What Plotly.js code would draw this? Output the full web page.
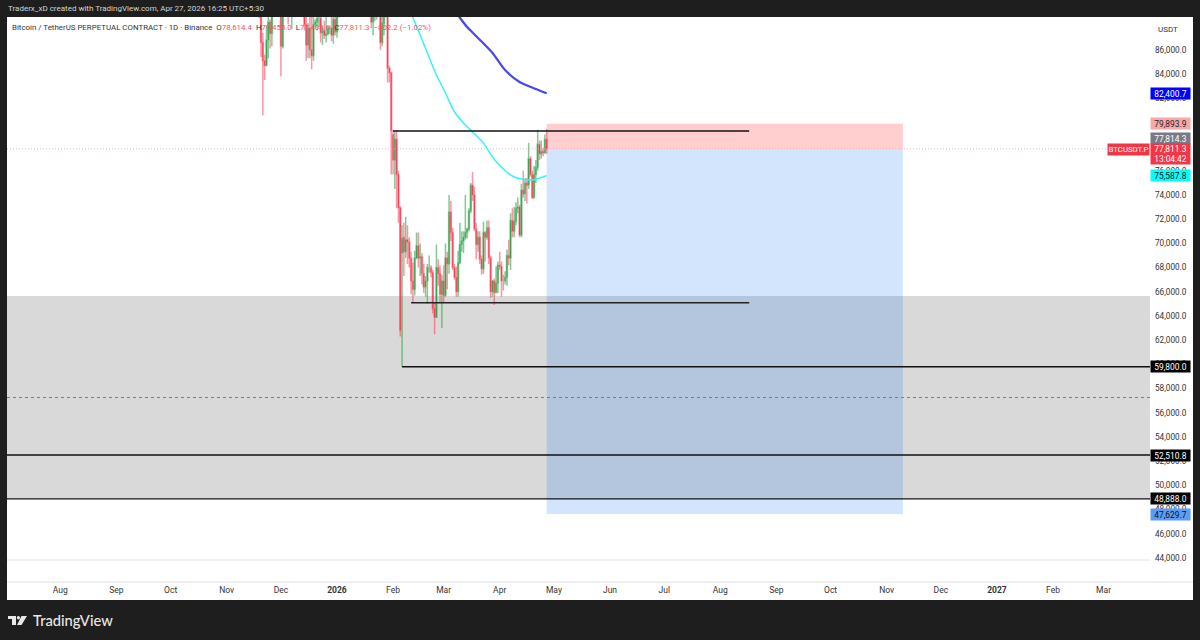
<!DOCTYPE html>
<html><head><meta charset="utf-8">
<script src="https://cdn.plot.ly/plotly-3.0.1.min.js"></script>
<style>html,body{margin:0;padding:0;background:#1e1e1e}#c{width:1200px;height:640px}</style></head>
<body><div id="c"></div>
<script>
const dates=[
'2025-11-17','2025-11-18','2025-11-19','2025-11-20','2025-11-21','2025-11-22','2025-11-23','2025-11-24','2025-11-25','2025-11-26','2025-11-27','2025-11-28','2025-11-29','2025-11-30',
'2025-12-01','2025-12-02','2025-12-03','2025-12-04','2025-12-05','2025-12-06','2025-12-07','2025-12-08','2025-12-09','2025-12-10','2025-12-11','2025-12-12','2025-12-13','2025-12-14','2025-12-15','2025-12-16','2025-12-17','2025-12-18','2025-12-19','2025-12-20','2025-12-21','2025-12-22','2025-12-23','2025-12-24','2025-12-25','2025-12-26','2025-12-27','2025-12-28','2025-12-29','2025-12-30','2025-12-31',
'2026-01-01','2026-01-02','2026-01-03','2026-01-04','2026-01-05','2026-01-06','2026-01-07','2026-01-08','2026-01-09','2026-01-10','2026-01-11','2026-01-12','2026-01-13','2026-01-14','2026-01-15','2026-01-16','2026-01-17','2026-01-18','2026-01-19','2026-01-20','2026-01-21','2026-01-22','2026-01-23','2026-01-24','2026-01-25','2026-01-26','2026-01-27','2026-01-28','2026-01-29','2026-01-30','2026-01-31',
'2026-02-01','2026-02-02','2026-02-03','2026-02-04','2026-02-05','2026-02-06','2026-02-07','2026-02-08','2026-02-09','2026-02-10','2026-02-11','2026-02-12','2026-02-13','2026-02-14','2026-02-15','2026-02-16','2026-02-17','2026-02-18','2026-02-19','2026-02-20','2026-02-21','2026-02-22','2026-02-23','2026-02-24','2026-02-25','2026-02-26','2026-02-27','2026-02-28',
'2026-03-01','2026-03-02','2026-03-03','2026-03-04','2026-03-05','2026-03-06','2026-03-07','2026-03-08','2026-03-09','2026-03-10','2026-03-11','2026-03-12','2026-03-13','2026-03-14','2026-03-15','2026-03-16','2026-03-17','2026-03-18','2026-03-19','2026-03-20','2026-03-21','2026-03-22','2026-03-23','2026-03-24','2026-03-25','2026-03-26','2026-03-27','2026-03-28','2026-03-29','2026-03-30','2026-03-31',
'2026-04-01','2026-04-02','2026-04-03','2026-04-04','2026-04-05','2026-04-06','2026-04-07','2026-04-08','2026-04-09','2026-04-10','2026-04-11','2026-04-12','2026-04-13','2026-04-14','2026-04-15','2026-04-16','2026-04-17','2026-04-18','2026-04-19','2026-04-20','2026-04-21','2026-04-22','2026-04-23','2026-04-24','2026-04-25','2026-04-26','2026-04-27'];
const opens=[
94200,92200,92900,91500,86600,85100,84700,86800,88300,87350,90500,91300,90900,90800,
90400,86300,91300,93400,92100,89300,89200,90400,90600,92700,92000,92500,90200,90200,88100,86400,87800,86000,85500,88100,88300,88600,88600,87400,87600,87200,87300,87800,87800,87200,88500,
87500,88750,89950,90600,91500,93900,93700,91200,90900,90500,90400,90800,91200,95300,96900,95500,95500,95100,94900,92500,88300,89500,89500,89500,89200,86600,88200,89100,89200,84500,84100,
79000,76900,78600,75700,72950,69200,70500,69300,70300,70100,68800,66900,66200,68800,69800,68800,68900,67500,66400,66900,68000,68000,67600,64600,63900,68000,67500,65800,
66900,65700,68800,68300,72600,70900,68000,67200,66000,68400,69900,70200,70500,70900,71200,72700,74800,74000,71200,69900,70500,68700,67900,70900,70500,71300,68800,66000,66900,65950,66700,
68200,68100,66900,66900,67200,69000,68800,71900,71000,71800,72900,73000,70700,74400,74100,75000,74800,77000,75700,73800,75700,76300,78200,77400,77600,77500,78614.4];
const highs=[
96000,93900,92900,93100,87400,85600,88000,89200,88500,90600,91950,93000,91200,92000,
90400,92300,94100,94000,92700,90300,91800,92300,94600,94500,93500,92700,90600,90500,90000,88200,90300,89400,89300,88500,89000,90500,88900,87900,88400,89500,87900,88000,90400,89300,89200,
88800,90900,90700,91800,94800,94800,93800,91500,91900,90900,91100,92400,96000,97900,97200,95800,95600,95500,94900,92800,90500,90300,91100,89800,89300,88900,89400,90600,89200,84700,84200,
79400,79200,79300,76000,73100,71500,71700,72200,71500,70500,69300,68400,69400,70900,70900,70000,69200,68300,67300,68300,69000,68200,67800,65100,69900,68700,68200,67400,
68200,70000,69300,74000,73500,71300,68300,68100,69400,71700,71000,71000,74000,71300,72900,75000,75900,74700,71700,71000,71000,69000,71800,71000,71900,71900,69000,67000,67100,68100,68500,
69300,68500,67400,67700,69500,70300,72500,72900,73000,73400,73800,73200,74900,76000,75400,75400,78300,77200,76000,76400,76900,79400,78500,78500,77900,79000,79455];
const lows=[
91200,89200,88600,85400,80600,83500,84700,85300,86100,86300,90100,90200,90200,90300,
83800,86100,91000,90900,88100,88900,87700,89600,89500,91600,89300,89500,89700,87600,85100,85300,85300,84400,85100,87900,87600,87900,86600,86400,86900,86600,87200,87300,86700,86500,87200,
87000,88800,89300,90500,91400,91300,90900,89300,89700,90300,90200,90000,90000,94500,95000,94200,94900,94500,91900,87800,87200,88400,88500,89100,86000,86300,87200,88700,83300,83300,75700,
75700,74500,72900,71700,62300,59800,67300,68800,68300,68000,65800,65100,65700,68700,68000,67300,66600,65900,65600,65000,67600,67200,64200,62500,63900,66500,65100,63000,
65100,65600,66200,67500,70200,67800,67000,65600,65600,68300,69300,69200,70300,70400,71000,72500,73500,71000,68700,69300,68300,67400,67500,68500,70300,68300,65500,65600,64900,65900,65900,
67800,65600,66100,66600,66500,68200,67800,70500,70500,71500,72500,70500,70500,73800,73500,73300,74500,75500,73700,73700,75000,76000,76900,77000,77200,77400,77408.6];
const closes=[
92200,92900,91500,86600,85100,84700,86800,88300,87350,90500,91300,90900,90800,90400,
86300,91300,93400,92100,89300,89200,90400,90600,92700,92000,92500,90200,90200,88100,86400,87800,86000,85500,88100,88300,88600,88600,87400,87600,87200,87300,87800,87800,87200,88500,87500,
88700,89950,90600,91500,93900,93700,91200,90900,90500,90400,90800,91200,95300,96900,95500,95500,95100,94900,92500,88300,89500,89500,89500,89200,86600,88200,89100,89200,84500,84100,79300,
76900,78600,75700,72950,62800,70400,69300,70300,70100,68800,66900,66200,68800,69800,68800,68900,67500,66400,66900,68000,68000,67600,64600,63900,68000,67500,65800,66900,
65700,68800,68300,72600,70900,68000,67200,66000,68400,69900,70200,70500,70900,71200,72700,74800,74000,71200,69900,70500,68700,67900,70900,70500,71300,68800,66000,66900,65950,66700,68200,
68100,66900,66900,67200,69000,68800,71900,71000,71800,72900,73000,70700,74400,74100,75000,74800,77000,75700,73800,75700,76300,78200,77400,77600,77500,78600,77811.3];

const cyanDates=['2026-02-10','2026-02-12','2026-02-16','2026-02-20','2026-02-25','2026-03-02','2026-03-07','2026-03-13','2026-03-17','2026-03-23','2026-03-28','2026-04-03','2026-04-08','2026-04-13','2026-04-19','2026-04-23','2026-04-27'];
const cyanValues=[89300,88650,87220,85740,83920,82430,80860,79790,79210,78300,77140,76150,75570,75320,75240,75400,75587.8];
const blueDates=['2026-03-08','2026-03-10','2026-03-14','2026-03-20','2026-03-28','2026-04-04','2026-04-12','2026-04-21','2026-04-27'];
const blueValues=[89050,88650,87880,86980,85740,84330,83340,82760,82400.7];

const monthTicks=['2025-08-01','2025-09-01','2025-10-01','2025-11-01','2025-12-01','2026-01-01','2026-02-01','2026-03-01','2026-04-01','2026-05-01','2026-06-01','2026-07-01','2026-08-01','2026-09-01','2026-10-01','2026-11-01','2026-12-01','2027-01-01','2027-02-01','2027-03-01'];
const monthLabels=['Aug','Sep','Oct','Nov','Dec','<b>2026</b>','Feb','Mar','Apr','May','Jun','Jul','Aug','Sep','Oct','Nov','Dec','<b>2027</b>','Feb','Mar'];
const priceTicks=[44000,46000,48000,50000,52000,54000,56000,58000,60000,62000,64000,66000,68000,70000,72000,74000,76000,78000,80000,82000,84000,86000];

const xStart='2025-07-02 12:00', xEnd='2027-03-26 16:00';
const yMin=42017, yMax=88711;
const lastPrice=77811.3, stopPrice=79893.9, targetPrice=47629.7, zoneTop=65650, zoneBottom=48888;
const boxStart='2026-04-27', boxEnd='2026-11-10';

const L=7,R=1150,T=17,B=582;
const px=x=>(x-L)/(R-L), py=y=>(B-y)/(B-T);
const font='Roboto, sans-serif';

function hline(xs,y,color,width,dash){return {type:'scatter',mode:'lines',x:xs,y:xs.map(()=>y),line:{color,width,dash:dash||'solid'},hoverinfo:'skip',showlegend:false};}
const traces=[
 {type:'candlestick',x:dates,open:opens,high:highs,low:lows,close:closes,
  increasing:{line:{color:'rgba(50,165,75,0.6)',width:1.5},fillcolor:'#229a45'},
  decreasing:{line:{color:'rgba(250,60,85,0.55)',width:1.5},fillcolor:'#ff1f3f'},
  whiskerwidth:0,hoverinfo:'skip',showlegend:false},
 {type:'scatter',mode:'lines',x:cyanDates,y:cyanValues,line:{color:'#33f5f5',width:1.5,shape:'spline',smoothing:0.8},hoverinfo:'skip',showlegend:false},
 {type:'scatter',mode:'lines',x:blueDates,y:blueValues,line:{color:'#4747ee',width:2.2,shape:'spline',smoothing:0.8},hoverinfo:'skip',showlegend:false},
 hline(['2026-02-01','2026-08-17'],79290,'#111',1.4),
 hline(['2026-02-11','2026-08-17'],65100,'#222',1.4),
 hline(['2026-02-06',xEnd],59800,'#111',1.4),
 hline([xStart,xEnd],52510.8,'#111',1.4),
 hline([xStart,xEnd],48888,'#111',1.4),
 hline([xStart,xEnd],57266,'#8e5fe0',1,'3px,3px'),
 hline([xStart,'2027-03-03'],lastPrice,'#eeb0b8',1,'1px,2px')
];

const rect=(x0,x1,y0,y1,fill)=>({type:'rect',xref:'x',yref:'y',x0,x1,y0,y1,fillcolor:fill,line:{width:0},layer:'below'});
const poly=(pts,fill)=>({type:'path',xref:'paper',yref:'paper',path:'M'+pts.map(p=>px(p[0])+','+py(p[1])).join('L')+'Z',fillcolor:fill,line:{width:0},layer:'above'});
const shapes=[
 {type:'rect',xref:'paper',yref:'paper',x0:px(7),x1:px(1193),y0:py(600),y1:py(17),fillcolor:'#fff',line:{width:0},layer:'below'},
 rect(xStart,xEnd,zoneBottom,zoneTop,'#d9d9d9'),
 rect(boxStart,boxEnd,lastPrice,stopPrice,'rgba(255,82,82,0.28)'),
 rect(boxStart,boxEnd,targetPrice,lastPrice,'rgba(33,127,243,0.2)'),
 {type:'line',xref:'paper',yref:'paper',x0:px(7),x1:px(1150),y0:py(560),y1:py(560),line:{color:'#e2e2ea',width:1},layer:'below'},
 {type:'line',xref:'paper',yref:'paper',x0:px(7),x1:px(1193),y0:py(582),y1:py(582),line:{color:'#e2e2ea',width:1},layer:'below'},
 poly([[8,616],[16,616],[16,625],[12,625],[12,619],[8,619]],'#e8e8e8'),
 {type:'circle',xref:'paper',yref:'paper',x0:px(16.8),x1:px(20),y0:py(619.4),y1:py(616),fillcolor:'#e8e8e8',line:{width:0},layer:'above'},
 poly([[21.5,616],[27,616],[21.5,625],[17,625]],'#e8e8e8')
];

const priceBox=(y,text,bg,color,yPix)=>({xref:'paper',yref:yPix!==undefined?'paper':'y',x:px(1170.5),y:yPix!==undefined?py(yPix):y,text,showarrow:false,
  font:{family:font,size:8.4,color},bgcolor:bg,width:39,height:11,borderpad:0,xanchor:'center',yanchor:'middle'});
const label=(x,y,text,size,color,anchor,f,w)=>({xref:'paper',yref:'paper',x:px(x),y:py(y),text,showarrow:false,font:{family:f||font,size,color,weight:w||400},xanchor:anchor||'left',yanchor:'middle',borderpad:0});
const annotations=[
 label(7,9,'Traderx_xD created with TradingView.com, Apr 27, 2026 16:25 UTC+5:30',8,'#d4d4d4'),
 label(11,27,'Bitcoin / TetherUS PERPETUAL CONTRACT · 1D · Binance&nbsp;&nbsp;O<span style="color:#f7525f">78,614.4</span>&nbsp;&nbsp;H<span style="color:#f7525f">79,455.0</span>&nbsp;&nbsp;L<span style="color:#f7525f">77,408.6</span>&nbsp;&nbsp;C<span style="color:#f7525f">77,811.3</span>&nbsp;&nbsp;<span style="color:#f7525f">−802.2 (−1.02%)</span>',7.9,'#333'),
 label(1168,29,'USDT',8,'#333','center'),
 priceBox(82400.7,'82,400.7','#0000ff','#fff'),
 priceBox(stopPrice,'79,893.9','#f9a8a8','#222'),
 priceBox(0,'77,814.3','#787b86','#fff',138.5),
 {xref:'paper',yref:'paper',x:px(1170.5),y:py(154),text:'77,811.3<br>13:04:42',showarrow:false,font:{family:font,size:8.4,color:'#fff'},bgcolor:'#f23645',width:39,height:20,borderpad:0,xanchor:'center',yanchor:'middle'},
 priceBox(75587.8,'75,587.8','#00ffff','#111'),
 priceBox(59800,'59,800.0','#000','#fff'),
 priceBox(52510.8,'52,510.8','#000','#fff'),
 priceBox(48888,'48,888.0','#000','#fff'),
 priceBox(47629.7,'47,629.7','#5b9cf6','#111'),
 {xref:'paper',yref:'paper',x:px(1128.5),y:py(149),text:'BTCUSDT.P',showarrow:false,font:{family:font,size:7.8,color:'#fff'},bgcolor:'#f23645',width:41,height:11,borderpad:0,xanchor:'center',yanchor:'middle'},
 label(32,620,'TradingView',14.7,'#e8e8e8','left','Lato, sans-serif',500)
];

const layout={
 width:1200,height:640,paper_bgcolor:'#1e1e1e',plot_bgcolor:'#fff',
 margin:{l:L,r:1200-R,t:T,b:640-B,pad:0},
 showlegend:false,dragmode:false,
 font:{family:font,size:8.5,color:'#333'},
 xaxis:{type:'date',range:[xStart,xEnd],rangeslider:{visible:false},tickmode:'array',tickvals:monthTicks,ticktext:monthLabels,
  showgrid:false,zeroline:false,showline:false,ticks:'',tickangle:0,tickfont:{family:font,size:8.5,color:'#333'},automargin:false,ticklabelstandoff:1},
 yaxis:{side:'right',range:[yMin,yMax],tickmode:'array',tickvals:priceTicks,ticktext:priceTicks.map(v=>v.toLocaleString('en-US',{minimumFractionDigits:1})),
  showgrid:false,zeroline:false,showline:false,ticks:'',tickfont:{family:font,size:8.2,color:'#333'},automargin:false,ticklabelstandoff:4},
 shapes,annotations
};
Plotly.newPlot('c',traces,layout,{displayModeBar:false,staticPlot:true});
</script></body></html>
